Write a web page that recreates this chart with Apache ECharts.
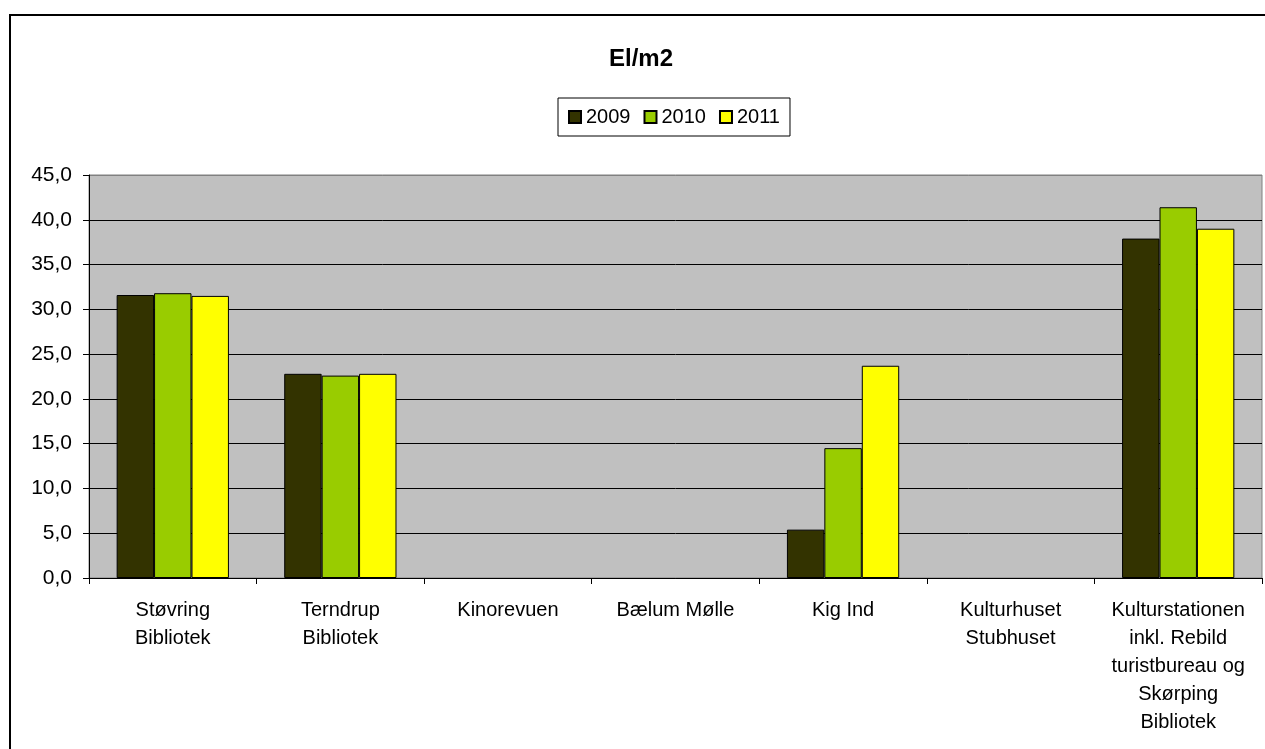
<!DOCTYPE html>
<html>
<head>
<meta charset="utf-8">
<script src="https://cdn.jsdelivr.net/npm/echarts@6/dist/echarts.min.js"></script>
<style>
html,body{margin:0;padding:0;background:#fff;}
#chart{width:1265px;height:749px;}
</style>
</head>
<body>
<div id="chart"></div>
<script>
const categories = [
  "Støvring\nBibliotek",
  "Terndrup\nBibliotek",
  "Kinorevuen",
  "Bælum Mølle",
  "Kig Ind",
  "Kulturhuset\nStubhuset",
  "Kulturstationen\ninkl. Rebild\nturistbureau og\nSkørping\nBibliotek"
];
const seriesNames = ["2009", "2010", "2011"];
const values2009 = [31.6, 22.8, null, null, 5.4, null, 37.9];
const values2010 = [31.8, 22.6, null, null, 14.5, null, 41.4];
const values2011 = [31.5, 22.8, null, null, 23.7, null, 39.0];
const titleText = "El/m2";

const FONT = '"Liberation Sans", Arial, sans-serif';
const colors = ['#333300', '#99CC00', '#FFFF00'];
const allValues = [values2009, values2010, values2011];

const chart = echarts.init(document.getElementById('chart'), null, {renderer: 'canvas'});
const gridLineColors = ['#000','#000','#000','#000','#000','#000','#000','#000','#000','#808080'];

chart.setOption({
  animation: false,
  backgroundColor: '#ffffff',
  title: {
    text: titleText,
    left: 609,
    top: 47,
    padding: 0,
    textStyle: {fontFamily: FONT, fontSize: 24, fontWeight: 'bold', color: '#000'}
  },
  legend: {
    data: seriesNames,
    left: 558,
    top: 98,
    padding: [9, 10, 9, 10],
    borderColor: '#000',
    borderWidth: 1,
    itemWidth: 12,
    itemHeight: 12,
    itemGap: 13,
    icon: 'rect',
    textStyle: {fontFamily: FONT, fontSize: 20, color: '#000'}
  },
  graphic: [{
    type: 'rect',
    z: 100,
    shape: {x: 10, y: 15, width: 1300, height: 800},
    style: {fill: null, stroke: '#000', lineWidth: 2}
  }],
  grid: {
    left: 89, right: 3, top: 175, bottom: 171,
    show: true,
    backgroundColor: '#C0C0C0',
    borderColor: '#808080',
    borderWidth: 1,
    containLabel: false
  },
  xAxis: {
    type: 'category',
    data: categories,
    axisLine: {lineStyle: {color: '#000', width: 1}},
    axisTick: {show: true, interval: 0, length: 6, lineStyle: {color: '#000'}},
    axisLabel: {
      interval: 0, margin: 18, color: '#000',
      fontFamily: FONT, fontSize: 20, lineHeight: 28, align: 'center'
    },
    splitLine: {show: false}
  },
  yAxis: {
    type: 'value',
    min: 0, max: 45, interval: 5,
    axisLine: {show: true, lineStyle: {color: '#000', width: 1}},
    axisTick: {show: true, length: 6, lineStyle: {color: '#000'}},
    axisLabel: {
      margin: 17, color: '#000', fontFamily: FONT, fontSize: 21,
      formatter: v => v.toFixed(1).replace('.', ',')
    },
    splitLine: {show: true, lineStyle: {color: gridLineColors, width: 1}}
  },
  series: seriesNames.map((name, i) => ({
    name: name,
    type: 'bar',
    data: allValues[i],
    barGap: '0%',
    barCategoryGap: '33%',
    itemStyle: {color: colors[i], borderColor: '#000', borderWidth: 1}
  }))
});
</script>
</body>
</html>
